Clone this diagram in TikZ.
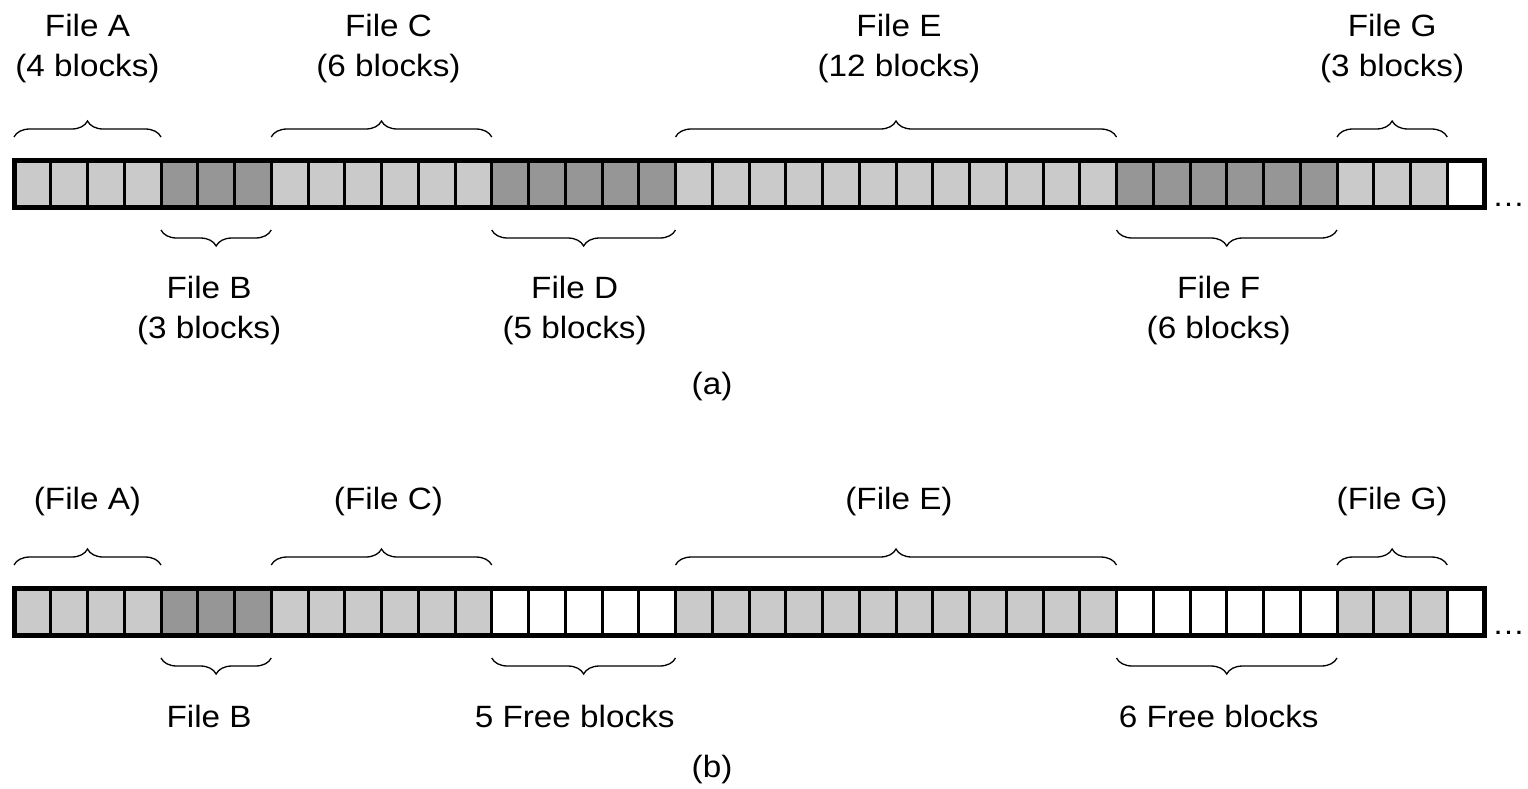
\documentclass[tikz,border=0pt]{standalone}
\usepackage{fontspec}
\setmainfont{Liberation Sans}[FakeStretch=1.08]
\usetikzlibrary{decorations.pathreplacing}
\definecolor{blkL}{HTML}{CACACA}
\definecolor{blkD}{HTML}{969696}
\definecolor{blkW}{HTML}{FFFFFF}
\begin{document}
\begin{tikzpicture}[x=1pt,y=-1pt,
  blk/.style={draw=black,line width=3pt,minimum width=36.75pt,minimum height=47pt,inner sep=0pt,outer sep=0pt},
  frame/.style={draw=black,line width=5pt},
  brc/.style={decorate,decoration={brace,amplitude=16pt},line width=1.3pt},
  brcm/.style={decorate,decoration={brace,mirror,amplitude=16pt},line width=1.3pt},
  lbl/.style={font=\fontsize{30.8}{40}\selectfont,align=center,inner sep=0pt,anchor=north},
  dots/.style={font=\fontsize{30.5}{37}\selectfont,inner sep=0pt,anchor=base west}]
\useasboundingbox (0,0) rectangle (1528,788);
% blocks
\foreach \s/\e/\ca/\cb in {1/4/blkL/blkL, 5/7/blkD/blkD, 8/13/blkL/blkL, 14/18/blkD/blkW, 19/30/blkL/blkL, 31/36/blkD/blkW, 37/39/blkL/blkL, 40/40/blkW/blkW} {
  \foreach \i in {\s,...,\e} {
    \pgfmathsetmacro\cx{14+36.75*(\i-0.5)}
    \node[blk,fill=\ca] (a\i) at (\cx,183.5) {};
    \node[blk,fill=\cb] (b\i) at (\cx,611.5) {};
  }
}
\draw[frame] (a1.north west) rectangle (a40.south east);
\draw[frame] (b1.north west) rectangle (b40.south east);
\node[dots] (dotsa) at (1492,206) {…};
\node[dots] (dotsb) at (1492,634) {…};
% (a) braces and labels
\draw[brc] ([yshift=23pt]a1.north west) -- ([yshift=23pt]a4.north east) node[lbl,midway,yshift=123pt] (fa) {File A\\(4 blocks)};
\draw[brc] ([yshift=23pt]a8.north west) -- ([yshift=23pt]a13.north east) node[lbl,midway,yshift=123pt,xshift=7pt] (fc) {File C\\(6 blocks)};
\draw[brc] ([yshift=23pt]a19.north west) -- ([yshift=23pt]a30.north east) node[lbl,midway,yshift=123pt,xshift=3pt] (fe) {File E\\(12 blocks)};
\draw[brc] ([yshift=23pt]a37.north west) -- ([yshift=23pt]a39.north east) node[lbl,midway,yshift=123pt] (fg) {File G\\(3 blocks)};
\draw[brcm] ([yshift=-23pt]a5.south west) -- ([yshift=-23pt]a7.south east) node[lbl,midway,yshift=-46pt,xshift=-7pt] (fb) {File B\\(3 blocks)};
\draw[brcm] ([yshift=-23pt]a14.south west) -- ([yshift=-23pt]a18.south east) node[lbl,midway,yshift=-46pt,xshift=-9pt] (fd) {File D\\(5 blocks)};
\draw[brcm] ([yshift=-23pt]a31.south west) -- ([yshift=-23pt]a36.south east) node[lbl,midway,yshift=-46pt,xshift=-8pt] (ff) {File F\\(6 blocks)};
\node[lbl] (capa) at (712,372) {(a)};
% (b) braces and labels
\draw[brc] ([yshift=23pt]b1.north west) -- ([yshift=23pt]b4.north east) node[lbl,midway,yshift=78pt] (ga) {(File A)};
\draw[brc] ([yshift=23pt]b8.north west) -- ([yshift=23pt]b13.north east) node[lbl,midway,yshift=78pt,xshift=7pt] (gc) {(File C)};
\draw[brc] ([yshift=23pt]b19.north west) -- ([yshift=23pt]b30.north east) node[lbl,midway,yshift=78pt,xshift=3pt] (ge) {(File E)};
\draw[brc] ([yshift=23pt]b37.north west) -- ([yshift=23pt]b39.north east) node[lbl,midway,yshift=78pt] (gg) {(File G)};
\draw[brcm] ([yshift=-23pt]b5.south west) -- ([yshift=-23pt]b7.south east) node[lbl,midway,yshift=-47pt,xshift=-7pt] (gb) {File B};
\draw[brcm] ([yshift=-23pt]b14.south west) -- ([yshift=-23pt]b18.south east) node[lbl,midway,yshift=-47pt,xshift=-9pt] (gd) {5 Free blocks};
\draw[brcm] ([yshift=-23pt]b31.south west) -- ([yshift=-23pt]b36.south east) node[lbl,midway,yshift=-47pt,xshift=-8pt] (gf) {6 Free blocks};
\node[lbl] (capb) at (712,755) {(b)};
\end{tikzpicture}
\end{document}
